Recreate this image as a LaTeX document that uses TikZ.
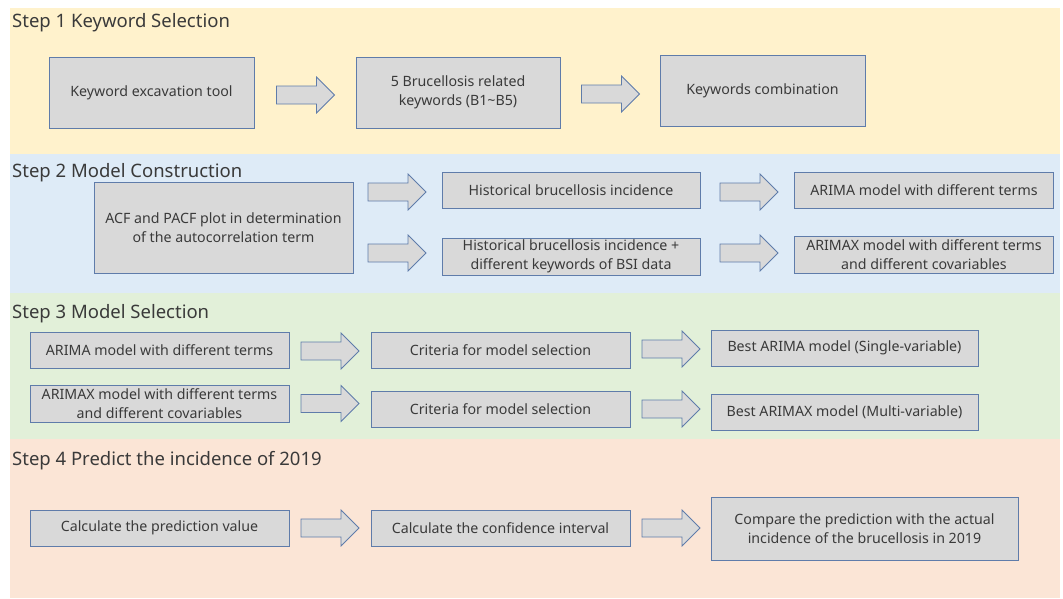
\documentclass[tikz,border=0pt]{standalone}
\usepackage{fontspec}
\setmainfont{Noto Sans}
\definecolor{bandY}{HTML}{FFF2CC}
\definecolor{bandB}{HTML}{DEEBF7}
\definecolor{bandG}{HTML}{E2F0D9}
\definecolor{bandP}{HTML}{FBE5D6}
\definecolor{boxfill}{HTML}{D9D9D9}
\definecolor{boxline}{HTML}{5F7CAA}
\definecolor{txt}{HTML}{3A3A3A}
\newcommand{\blockarr}[3]{%
  \coordinate (#1) at (#2,#3);
  \filldraw[blockarrow,shift={(#1)}] (-29,-9) -- (11,-9) -- (11,-18) -- (29,0) -- (11,18) -- (11,9) -- (-29,9) -- cycle;}
\begin{document}
\begin{tikzpicture}[x=1pt,y=-1pt,
  title/.style={anchor=west,inner sep=0pt,text=txt,font=\fontsize{18.5}{22}\selectfont},
  procbox/.style={draw=boxline,line width=0.8pt,fill=boxfill,text=txt,align=center,
    font=\fontsize{14.2}{19}\selectfont,inner sep=0pt},
  blockarrow/.style={draw=boxline,line width=0.8pt,fill=boxfill,line join=miter}
]
\useasboundingbox (0,0) rectangle (1063,598);
\fill[white] (0,0) rectangle (1063,598);
% bands
\fill[bandY] (10,8) rectangle (1060,154);
\fill[bandB] (10,154) rectangle (1060,293);
\fill[bandG] (10,293) rectangle (1060,439);
\fill[bandP] (10,439) rectangle (1060,598);
% titles
\node[title] (t1) at (12,23) {Step 1 Keyword Selection};
\node[title] (t2) at (12,173) {Step 2 Model Construction};
\node[title] (t3) at (12,314) {Step 3 Model Selection};
\node[title] (t4) at (12,461) {Step 4 Predict the incidence of 2019};
% step 1
\node[procbox,minimum width=205pt,minimum height=71pt] (a1) at (151.5,92.5) {Keyword excavation tool};
\node[procbox,minimum width=204pt,minimum height=71pt] (a2) at (458,92.5) {5 Brucellosis related\\keywords (B1\textasciitilde B5)};
\node[procbox,minimum width=205pt,minimum height=71pt] (a3) at (762.5,91) {Keywords combination};
\blockarr{ar1}{305.5}{95}
\blockarr{ar2}{610.5}{94}
% step 2
\node[procbox,minimum width=259pt,minimum height=91pt] (b0) at (223.5,227.5) {ACF and PACF plot in determination\\of the autocorrelation term};
\node[procbox,minimum width=258pt,minimum height=36pt] (b1) at (571,190) {Historical brucellosis incidence};
\node[procbox,minimum width=258pt,minimum height=37pt] (b2) at (571,256.5) {Historical brucellosis incidence +\\different keywords of BSI data};
\node[procbox,minimum width=259pt,minimum height=36pt] (b3) at (924,190) {ARIMA model with different terms};
\node[procbox,minimum width=259pt,minimum height=37pt] (b4) at (924,255) {ARIMAX model with different terms\\and different covariables};
\blockarr{br1}{397}{192}
\blockarr{br2}{397}{253}
\blockarr{br3}{749}{192}
\blockarr{br4}{749}{253}
% step 3
\node[procbox,minimum width=259pt,minimum height=36pt] (c1) at (159.5,350) {ARIMA model with different terms};
\node[procbox,minimum width=259pt,minimum height=37pt] (c2) at (159.5,403.5) {ARIMAX model with different terms\\and different covariables};
\node[procbox,minimum width=259pt,minimum height=36pt] (c3) at (500.5,350) {Criteria for model selection};
\node[procbox,minimum width=259pt,minimum height=36pt] (c4) at (500.5,409) {Criteria for model selection};
\node[procbox,minimum width=267pt,minimum height=36pt] (c5) at (844.5,348) {Best ARIMA model (Single-variable)};
\node[procbox,minimum width=267pt,minimum height=36pt] (c6) at (844.5,412) {Best ARIMAX model (Multi-variable)};
\blockarr{cr1}{330}{351}
\blockarr{cr2}{330}{403.5}
\blockarr{cr3}{671}{349}
\blockarr{cr4}{671}{409}
% step 4
\node[procbox,minimum width=259pt,minimum height=36pt] (d1) at (159.5,528) {Calculate the prediction value};
\node[procbox,minimum width=259pt,minimum height=36pt] (d2) at (500.5,528) {Calculate the confidence interval};
\node[procbox,minimum width=307pt,minimum height=63pt] (d3) at (864.5,528.5) {Compare the prediction with the actual\\incidence of the brucellosis in 2019};
\blockarr{dr1}{330}{528}
\blockarr{dr2}{671}{528}
\end{tikzpicture}
\end{document}
